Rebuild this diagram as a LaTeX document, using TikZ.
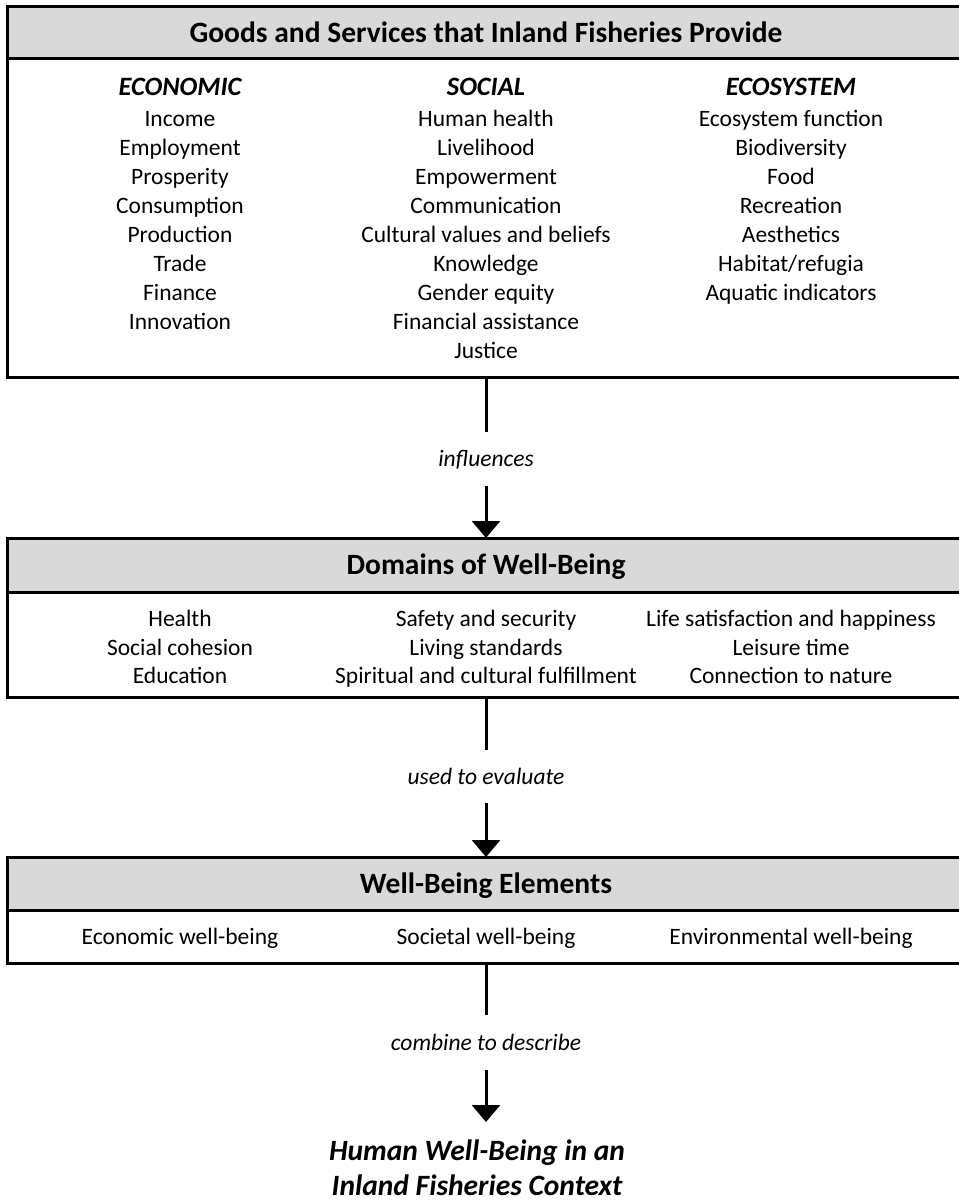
\documentclass[tikz,border=0pt]{standalone}
\usepackage{fontspec}
\setmainfont{Carlito}
\usetikzlibrary{arrows.meta}
\definecolor{headgray}{HTML}{D9D9D9}
\begin{document}
\begin{tikzpicture}[x=1pt,y=-1pt,
  frame/.style={draw=black, line width=3pt, minimum width=958pt, anchor=north west, inner sep=0pt, outer sep=0pt},
  body/.style={frame, fill=white},
  hdr/.style={frame, fill=headgray, text height=21pt, text depth=2pt, font=\fontsize{29.5}{35}\selectfont\bfseries},
  item/.style={inner sep=0pt, text height=17pt, text depth=2pt, font=\fontsize{23.5}{29}\selectfont},
  colhead/.style={item, font=\fontsize{26.5}{31}\selectfont\bfseries\itshape},
  lbl/.style={inner sep=0pt, text height=17pt, text depth=2pt, font=\fontsize{23.5}{29}\selectfont\itshape},
  conn/.style={draw=black, line width=3pt},
  tip/.style={conn, -{Triangle[width=28pt,length=17pt]}},
  final/.style={inner sep=0pt, align=center, font=\fontsize{29.5}{35}\selectfont\bfseries\itshape}
]
\useasboundingbox (0,0) rectangle (958,1201);

% --- Box 1: goods and services ---
\node[body, minimum height=370pt] (b1) at (7,7) {};
\node[hdr, minimum height=52pt] (h1) at (7,7) {Goods and Services that Inland Fisheries Provide};
\node[colhead] (c1) at (180,88) {ECONOMIC};
\node[colhead] (c2) at (486,88) {SOCIAL};
\node[colhead] (c3) at (791,88) {ECOSYSTEM};
\foreach \t [count=\i from 0] in {Income,Employment,Prosperity,Consumption,Production,Trade,Finance,Innovation}
  \node[item] (ea\i) at (180,{119+29*\i}) {\t};
\foreach \t [count=\i from 0] in {Human health,Livelihood,Empowerment,Communication,Cultural values and beliefs,Knowledge,Gender equity,Financial assistance,Justice}
  \node[item] (sa\i) at (486,{119+29*\i}) {\t};
\foreach \t [count=\i from 0] in {Ecosystem function,Biodiversity,Food,Recreation,Aesthetics,Habitat/refugia,Aquatic indicators}
  \node[item] (ya\i) at (791,{119+29*\i}) {\t};

% --- Box 2: domains of well-being ---
\node[body, minimum height=159pt] (b2) at (7,538) {};
\node[hdr, minimum height=54pt] (h2) at (7,538) {Domains of Well-Being};
\foreach \t [count=\i from 0] in {Health,Social cohesion,Education}
  \node[item] (da\i) at (180,{619+28.5*\i}) {\t};
\foreach \t [count=\i from 0] in {Safety and security,Living standards,Spiritual and cultural fulfillment}
  \node[item] (db\i) at (486,{619+28.5*\i}) {\t};
\foreach \t [count=\i from 0] in {Life satisfaction and happiness,Leisure time,Connection to nature}
  \node[item] (dc\i) at (791,{619+28.5*\i}) {\t};

% --- Box 3: well-being elements ---
\node[body, minimum height=106pt] (b3) at (7,857) {};
\node[hdr, minimum height=53pt] (h3) at (7,857) {Well-Being Elements};
\node[item] (w1) at (180,937) {Economic well-being};
\node[item] (w2) at (486,937) {Societal well-being};
\node[item] (w3) at (791,937) {Environmental well-being};

% --- connector labels ---
\node[lbl, minimum height=53pt] (l1) at (486,459) {influences};
\node[lbl, minimum height=53pt] (l2) at (486,776.5) {used to evaluate};
\node[lbl, minimum height=55pt] (l3) at (486,1042.5) {combine to describe};
\coordinate (endtip) at (486,1122);

% --- outcome ---
\node[final] (fin) at (477,1168) {Human Well-Being in an\\Inland Fisheries Context};

% --- connectors ---
\draw[conn] (b1.south) -- (l1.north);
\draw[tip] (l1.south) -- (h2.north);
\draw[conn] (b2.south) -- (l2.north);
\draw[tip] (l2.south) -- (h3.north);
\draw[conn] (b3.south) -- (l3.north);
\draw[tip] (l3.south) -- (endtip);
\end{tikzpicture}
\end{document}
